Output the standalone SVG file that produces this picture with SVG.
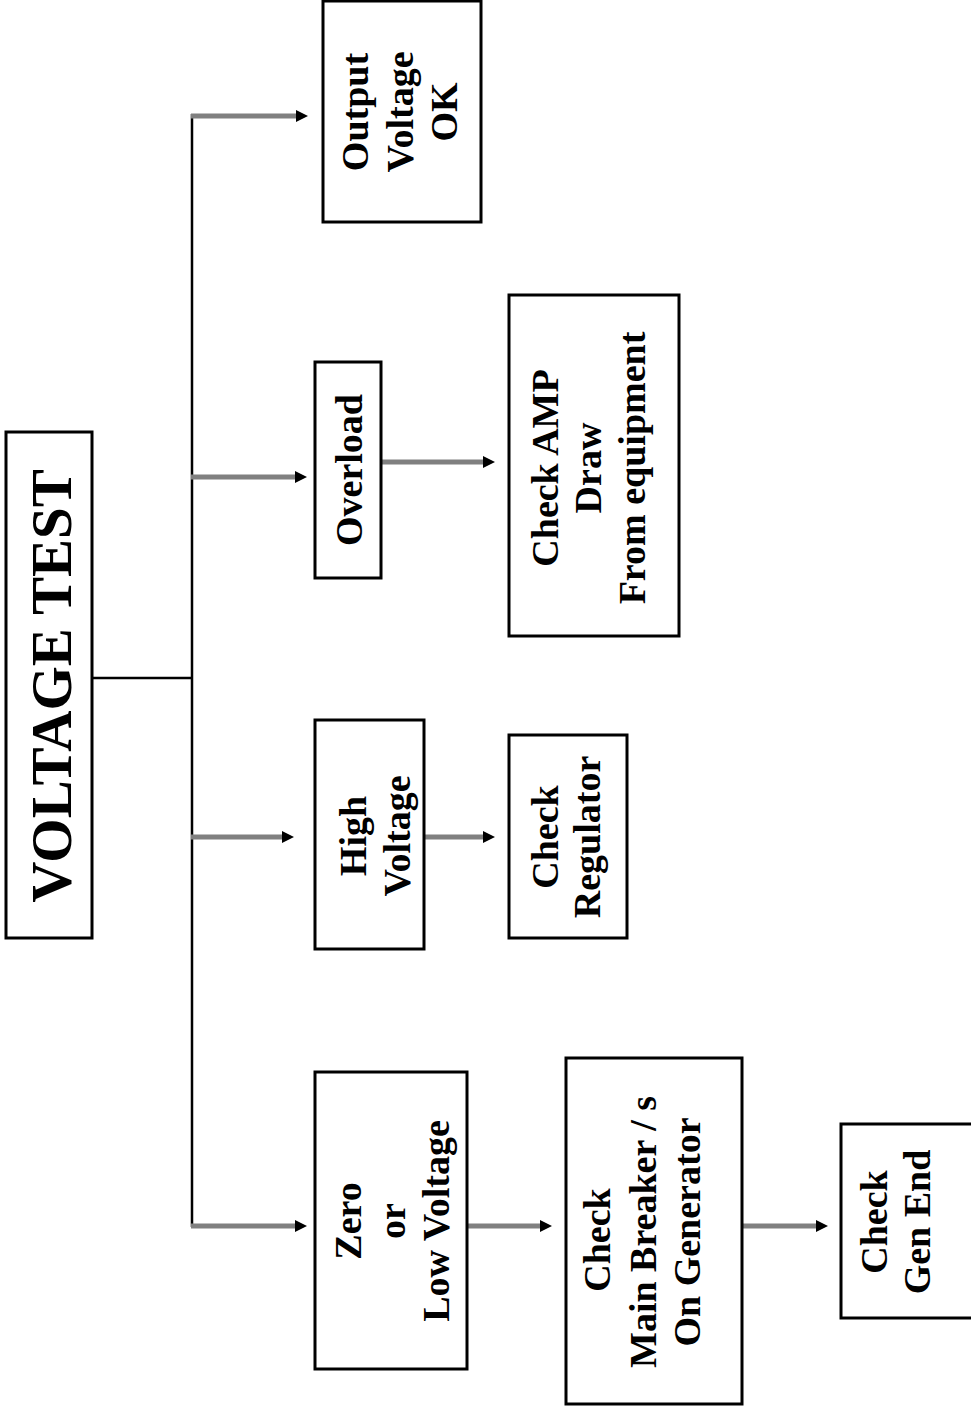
<svg xmlns="http://www.w3.org/2000/svg" width="971" height="1412" viewBox="0 0 971 1412">
<style>
.box { fill: #ffffff; stroke: #000000; stroke-width: 3; }
.t { font-family: "Liberation Serif", "Times New Roman", serif; font-weight: bold; font-size: 38px; text-anchor: middle; dominant-baseline: central; fill: #000000; }
.title { font-size: 57px; }
.trunk { stroke: #000000; stroke-width: 2.5; fill: none; }
.arrow { stroke: #808080; stroke-width: 5; fill: none; marker-end: url(#ah); }
</style>
<defs>
<marker id="ah" markerUnits="userSpaceOnUse" markerWidth="14" markerHeight="14" refX="0" refY="6" orient="auto">
<path d="M0,0 L12,6 L0,12 Z" fill="#000000"/>
</marker>
</defs>
<rect x="0" y="0" width="971" height="1412" fill="#ffffff"/>

<g id="connectors">
<line class="trunk" x1="92" y1="678" x2="192" y2="678"/>
<line class="trunk" x1="192" y1="114" x2="192" y2="1227"/>
<line class="arrow" x1="191" y1="116" x2="296" y2="116"/>
<line class="arrow" x1="191" y1="477" x2="295" y2="477"/>
<line class="arrow" x1="191" y1="837" x2="282" y2="837"/>
<line class="arrow" x1="191" y1="1226" x2="295" y2="1226"/>
<line class="arrow" x1="381" y1="462" x2="483" y2="462"/>
<line class="arrow" x1="424" y1="837" x2="483" y2="837"/>
<line class="arrow" x1="467" y1="1226" x2="540" y2="1226"/>
<line class="arrow" x1="742" y1="1226" x2="816" y2="1226"/>
</g>

<g id="voltage-test">
<rect class="box" x="6" y="432" width="86" height="506"/>
<text class="t title" transform="translate(51,686) rotate(-90)">VOLTAGE TEST</text>
</g>

<g id="output-ok">
<rect class="box" x="323" y="1" width="158" height="221"/>
<text class="t" transform="translate(400,112) rotate(-90)"><tspan x="0" y="-45">Output</tspan><tspan x="0" y="0">Voltage</tspan><tspan x="0" y="44">OK</tspan></text>
</g>

<g id="overload">
<rect class="box" x="315" y="362" width="66" height="216"/>
<text class="t" transform="translate(349,470) rotate(-90)">Overload</text>
</g>

<g id="check-amp">
<rect class="box" x="509" y="295" width="170" height="341"/>
<text class="t" transform="translate(588,468) rotate(-90)"><tspan x="0" y="-43">Check AMP</tspan><tspan x="0" y="0">Draw</tspan><tspan x="0" y="44">From equipment</tspan></text>
</g>

<g id="high-voltage">
<rect class="box" x="315" y="720" width="109" height="229"/>
<text class="t" transform="translate(375,836) rotate(-90)"><tspan x="0" y="-22">High</tspan><tspan x="0" y="22">Voltage</tspan></text>
</g>

<g id="check-regulator">
<rect class="box" x="509" y="735" width="118" height="203"/>
<text class="t" transform="translate(566,837) rotate(-90)"><tspan x="0" y="-21">Check</tspan><tspan x="0" y="21">Regulator</tspan></text>
</g>

<g id="zero-low">
<rect class="box" x="315" y="1072" width="152" height="297"/>
<text class="t" transform="translate(392,1221) rotate(-90)"><tspan x="0" y="-44">Zero</tspan><tspan x="0" y="0">or</tspan><tspan x="0" y="44">Low Voltage</tspan></text>
</g>

<g id="check-main-breaker">
<rect class="box" x="566" y="1058" width="176" height="346"/>
<text class="t" transform="translate(642,1232) rotate(-90)"><tspan x="-8" y="-45">Check</tspan><tspan x="0" y="1">Main Breaker / s</tspan><tspan x="0" y="45">On Generator</tspan></text>
</g>

<g id="check-gen-end">
<rect class="box" x="841" y="1124" width="140" height="194"/>
<text class="t" transform="translate(895,1222) rotate(-90)"><tspan x="0" y="-21">Check</tspan><tspan x="0" y="22">Gen End</tspan></text>
</g>
</svg>
